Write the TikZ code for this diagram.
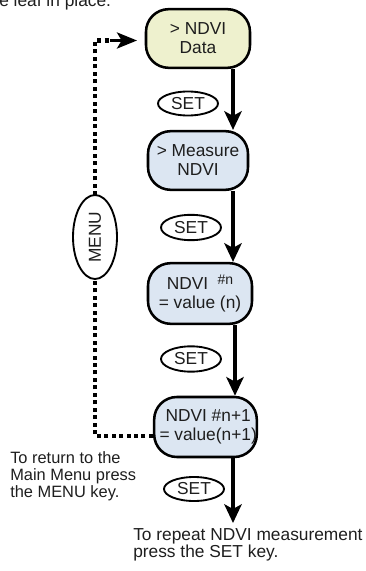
\documentclass[tikz,border=0pt]{standalone}
\usepackage{fontspec}
\setmainfont{Liberation Sans}
\usetikzlibrary{shapes.geometric,arrows.meta}
\definecolor{boxgreen}{RGB}{238,241,206}
\definecolor{boxblue}{RGB}{220,230,242}
\definecolor{ink}{RGB}{30,30,30}
\newcommand{\mainfs}{\fontsize{13}{14.25}\selectfont}
\newcommand{\notefs}{\fontsize{13}{12.75}\selectfont}
\newcommand{\leftfs}{\fontsize{12.3}{12.9}\selectfont}
\begin{document}
\begin{tikzpicture}[x=0.75pt,y=-0.75pt,
  stepbox/.style={draw=black, line width=1.9pt, rounded corners=17pt, align=center, font=\mainfs, text=ink, inner sep=0pt, minimum height=44pt},
  keyell/.style={ellipse, draw=black, line width=1.4pt, inner sep=0pt, minimum width=45pt, minimum height=18pt, font=\mainfs, text=ink},
  flow/.style={line width=3pt, -{Stealth[length=14pt,width=13pt,inset=3.5pt]}},
  back/.style={line width=3.2pt, dash pattern=on 3pt off 2.6pt},
  note/.style={align=left, font=\notefs, text=ink, inner sep=0pt}]
\useasboundingbox (0,0) rectangle (366,571);

\node[note, anchor=base west] (top) at (-1,7) {e leaf in place.};

\node[stepbox, fill=boxgreen, minimum width=78pt] (b1) at (198,38.5) {> NDVI\\Data};
\node[stepbox, fill=boxblue, minimum width=75pt] (b2) at (198,160.5) {> Measure\\NDVI};
\node[stepbox, fill=boxblue, minimum width=78pt, minimum height=45.5pt] (b3) at (200,293.5)
  {NDVI\hspace{7pt}\raisebox{3.5pt}{\fontsize{10.5}{10.5}\selectfont\#n}\\= value (n)};
\node[stepbox, fill=boxblue, minimum width=77pt, minimum height=45pt] (b4) at (205.5,427)
  {\hspace*{4pt}NDVI \#n+1\\\hspace*{4pt}= value(n+1)};

\coordinate (ax1) at (233,0);
\coordinate (ax3) at (235,0);
\coordinate (end) at (233,523);

\draw[flow] (b1.south -| ax1) -- (b2.north -| ax1);
\draw[flow] (b2.south -| ax1) -- (b3.north -| ax1);
\draw[flow] (b3.south -| ax3) -- (b4.north -| ax3);
\draw[flow] (b4.south -| ax1) -- (end);

\node[keyell] (s1) at (188,103.5) {SET};
\node[keyell, minimum height=19pt] (s2) at (191,227.5) {SET};
\node[keyell, minimum height=19pt] (s3) at (191,359) {SET};
\node[keyell] (s4) at (194,489) {SET};

\coordinate (corner) at (95,436);
\coordinate (topc) at (95,40.5);
\coordinate (tipstart) at (110,40.5);
\coordinate (tip) at (137,40.5);
\draw[back] (b4.west |- corner) -- (corner) -- (topc) -- (tipstart);
\draw[line width=2.4pt, -{Stealth[length=15pt,width=12pt,inset=3.5pt]}] (tipstart) -- (tip);

\node[ellipse, draw=black, line width=1.4pt, fill=white, minimum width=33pt, minimum height=63pt, inner sep=0pt] (menu) at (95,237) {};
\node[rotate=90, font=\mainfs, text=ink] (menut) at (menu.center) {MENU};

\node[note, font=\leftfs, anchor=north west] (ltext) at (10,451) {To return to the\\Main Menu press\\the MENU key.};
\node[note, anchor=north west] (btext) at (133,528) {To repeat NDVI measurement\\press the SET key.};
\end{tikzpicture}
\end{document}
